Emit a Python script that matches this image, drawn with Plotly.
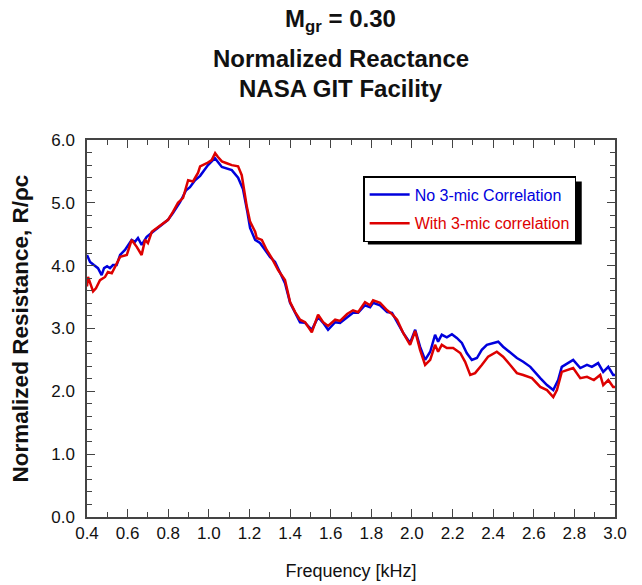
import plotly.graph_objects as go

# ---- data ----
freq_no_corr = [0.400, 0.415, 0.434, 0.454, 0.472, 0.484, 0.499, 0.513, 0.528, 0.546,
                0.563, 0.587, 0.620, 0.636, 0.651, 0.669, 0.694, 0.725, 0.760, 0.799,
                0.824, 0.858, 0.888, 0.907, 0.932, 0.957, 0.996, 1.030, 1.064, 1.113,
                1.144, 1.168, 1.190, 1.203, 1.228, 1.252, 1.277, 1.301, 1.326, 1.351,
                1.375, 1.400, 1.425, 1.449, 1.474, 1.507, 1.538, 1.563, 1.587, 1.622,
                1.646, 1.681, 1.710, 1.735, 1.769, 1.794, 1.809, 1.843, 1.878, 1.902,
                1.927, 1.957, 1.991, 2.016, 2.040, 2.065, 2.090, 2.114, 2.129, 2.147,
                2.172, 2.197, 2.221, 2.246, 2.270, 2.295, 2.320, 2.344, 2.369, 2.400,
                2.425, 2.449, 2.484, 2.517, 2.548, 2.583, 2.632, 2.665, 2.696, 2.720,
                2.738, 2.770, 2.794, 2.829, 2.862, 2.886, 2.917, 2.942, 2.967, 2.991,
                3.000]
r_no_corr = [4.17, 4.06, 4.01, 3.96, 3.85, 3.96, 3.99, 3.96, 4.01, 4.01,
             4.17, 4.25, 4.41, 4.38, 4.44, 4.33, 4.46, 4.54, 4.62, 4.73,
             4.84, 5.01, 5.20, 5.25, 5.36, 5.43, 5.60, 5.71, 5.57, 5.52,
             5.40, 5.22, 4.85, 4.60, 4.41, 4.36, 4.25, 4.14, 4.06, 3.88,
             3.72, 3.41, 3.25, 3.10, 3.09, 2.98, 3.18, 3.09, 2.98, 3.10,
             3.09, 3.18, 3.25, 3.25, 3.37, 3.34, 3.41, 3.37, 3.26, 3.25,
             3.10, 2.93, 2.77, 2.98, 2.71, 2.50, 2.63, 2.90, 2.79, 2.90,
             2.86, 2.91, 2.85, 2.77, 2.61, 2.50, 2.53, 2.66, 2.74, 2.77,
             2.79, 2.71, 2.61, 2.53, 2.47, 2.39, 2.21, 2.10, 2.02, 2.18,
             2.39, 2.45, 2.50, 2.37, 2.42, 2.39, 2.45, 2.31, 2.39, 2.26,
             2.26]

freq_with_corr = [0.400, 0.405, 0.430, 0.444, 0.464, 0.489, 0.503, 0.522, 0.538, 0.563,
                  0.596, 0.620, 0.645, 0.669, 0.686, 0.700, 0.719, 0.743, 0.774, 0.799,
                  0.824, 0.848, 0.873, 0.898, 0.922, 0.947, 0.957, 0.990, 1.014, 1.031,
                  1.045, 1.064, 1.088, 1.113, 1.144, 1.162, 1.187, 1.203, 1.228, 1.236,
                  1.261, 1.285, 1.310, 1.341, 1.375, 1.400, 1.425, 1.449, 1.474, 1.507,
                  1.538, 1.563, 1.587, 1.622, 1.646, 1.681, 1.710, 1.735, 1.769, 1.794,
                  1.809, 1.843, 1.878, 1.902, 1.927, 1.957, 1.991, 2.016, 2.040, 2.065,
                  2.090, 2.114, 2.129, 2.147, 2.172, 2.203, 2.238, 2.262, 2.287, 2.311,
                  2.344, 2.375, 2.418, 2.449, 2.484, 2.517, 2.548, 2.591, 2.632, 2.665,
                  2.696, 2.714, 2.738, 2.770, 2.794, 2.829, 2.862, 2.896, 2.927, 2.942,
                  2.967, 2.991, 3.000]
r_with_corr = [3.67, 3.82, 3.59, 3.64, 3.77, 3.82, 3.90, 3.88, 3.98, 4.14,
               4.17, 4.41, 4.30, 4.17, 4.41, 4.36, 4.54, 4.60, 4.68, 4.73,
               4.86, 5.00, 5.08, 5.36, 5.34, 5.48, 5.58, 5.63, 5.68, 5.79,
               5.73, 5.66, 5.63, 5.60, 5.58, 5.44, 4.94, 4.70, 4.54, 4.44,
               4.41, 4.25, 4.12, 3.93, 3.77, 3.42, 3.26, 3.14, 3.10, 2.94,
               3.22, 3.10, 3.04, 3.14, 3.12, 3.23, 3.29, 3.26, 3.42, 3.37,
               3.45, 3.41, 3.29, 3.23, 3.14, 2.93, 2.74, 2.96, 2.66, 2.42,
               2.50, 2.74, 2.63, 2.74, 2.69, 2.69, 2.61, 2.47, 2.26, 2.29,
               2.42, 2.55, 2.63, 2.55, 2.42, 2.29, 2.26, 2.21, 2.07, 2.02,
               1.91, 2.02, 2.31, 2.34, 2.37, 2.21, 2.23, 2.18, 2.26, 2.10,
               2.18, 2.07, 2.07]

series_names = ["No 3-mic Correlation", "With 3-mic correlation"]
BLUE = "#0000DD"
RED = "#DD0000"

FONT = "Liberation Sans, Arial, sans-serif"

fig = go.Figure()
fig.add_trace(go.Scatter(
    x=freq_no_corr, y=r_no_corr, mode="lines", legendgroup="a",
    name=f"<span style='color:{BLUE}'>{series_names[0]}</span>",
    line=dict(color=BLUE, width=2.5)))
fig.add_trace(go.Scatter(
    x=freq_with_corr, y=r_with_corr, mode="lines", legendgroup="b",
    name=f"<span style='color:{RED}'>{series_names[1]}</span>",
    line=dict(color=RED, width=2.5)))

axis_common = dict(
    showline=True, linecolor="#444", linewidth=1.5, mirror="allticks",
    ticks="inside", ticklen=8, tickwidth=1.2, tickcolor="#444",
    showgrid=False, zeroline=False,
    tickfont=dict(family=FONT, size=17, color="#111"),
)

fig.update_xaxes(
    range=[0.4, 3.0], dtick=0.2, tick0=0.4, tickformat=".1f",
    minor=dict(dtick=0.1, ticks="inside", ticklen=5, tickcolor="#444", tickwidth=1.2),
    title=dict(text="Frequency [kHz]", font=dict(family=FONT, size=18, color="#111"), standoff=22),
    ticklabelstandoff=0,
    **axis_common)
fig.update_yaxes(
    range=[0, 6], dtick=1, tick0=0, tickformat=".1f",
    minor=dict(dtick=0.2, ticks="inside", ticklen=5, tickcolor="#444", tickwidth=1.2),
    title=dict(text="<b>Normalized Resistance, R/ρc</b>",
               font=dict(family=FONT, size=22.5, color="#111"), standoff=17),
    ticklabelstandoff=7,
    **axis_common)

# Title lines
title_lines = ["M<sub>gr</sub> = 0.30", "Normalized Reactance", "NASA GIT Facility"]
title_y = [1.316, 1.215, 1.137]
for txt, yy in zip(title_lines, title_y):
    fig.add_annotation(text=f"<b>{txt}</b>", xref="paper", yref="paper",
                       x=0.481, y=yy, xanchor="center", yanchor="middle",
                       showarrow=False, font=dict(family=FONT, size=24, color="#111"))

# legend drop shadow, offset down-right behind the legend box
fig.add_shape(type="rect", xref="paper", yref="paper",
              x0=0.532, x1=0.937, y0=0.723, y1=0.890,
              fillcolor="black", line=dict(width=0), layer="above")

fig.update_layout(
    width=634, height=577,
    margin=dict(l=79, r=27, t=132, b=68, autoexpand=False),
    paper_bgcolor="white", plot_bgcolor="white",
    showlegend=True,
    legend=dict(x=0.523, y=0.9045, xanchor="left", yanchor="top",
                bgcolor="white", bordercolor="black", borderwidth=1.5,
                itemwidth=40, tracegroupgap=5,
                font=dict(family=FONT, size=16)),
)

fig.write_html("out.html")
